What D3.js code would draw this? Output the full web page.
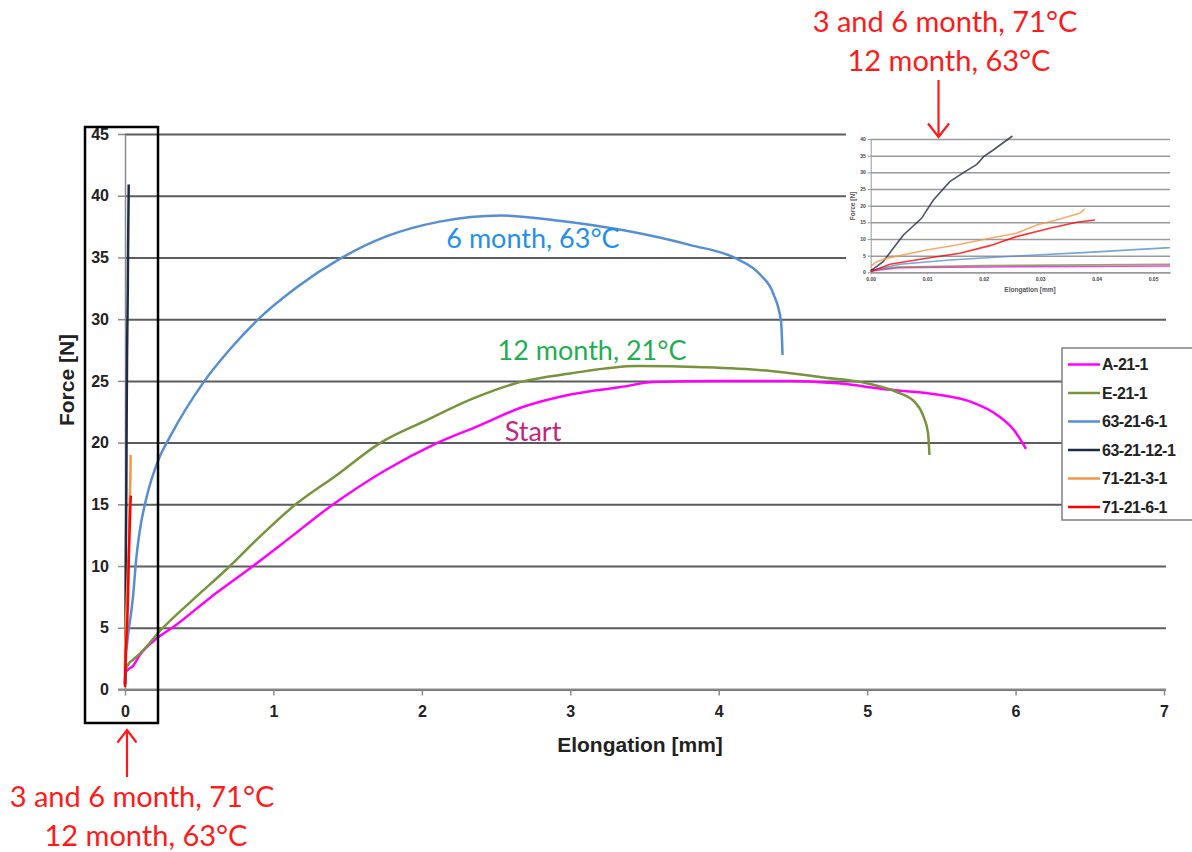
<!DOCTYPE html>
<html>
<head>
<meta charset="utf-8">
<script src="https://cdn.jsdelivr.net/npm/d3@7"></script>
<style>
  body { margin: 0; background: #fff; }
  svg { display: block; }
</style>
</head>
<body>
<div id="chart"></div>
<script>
// sample names as in the legend
const seriesNames = ["A-21-1", "E-21-1", "63-21-6-1", "63-21-12-1", "71-21-3-1", "71-21-6-1"];

// [elongation mm, force N]
const a21_1 = [[0, 0.4], [0.005, 1.4], [0.02, 1.6], [0.053, 1.9], [0.1, 2.8], [0.21, 4.1], [0.33, 5.1], [0.57, 7.4],
  [0.84, 9.8], [1.09, 12.1], [1.38, 14.8], [1.76, 17.8], [2.09, 19.9], [2.39, 21.4], [2.66, 22.8], [3.0, 23.9],
  [3.34, 24.5], [3.56, 24.9], [4.01, 25.0], [4.48, 25.0], [4.80, 24.8], [5.14, 24.3], [5.47, 23.9], [5.70, 23.3],
  [5.88, 22.2], [5.99, 21.0], [6.07, 19.5]];
const e21_1 = [[0, 0.6], [0.005, 1.6], [0.02, 2.0], [0.053, 2.4], [0.10, 2.9], [0.24, 4.8], [0.46, 7.3], [0.69, 9.8],
  [0.91, 12.4], [1.13, 14.8], [1.43, 17.4], [1.71, 19.9], [2.03, 21.8], [2.33, 23.5], [2.66, 24.9], [3.0, 25.6],
  [3.45, 26.2], [3.90, 26.1], [4.35, 25.8], [4.69, 25.3], [5.0, 24.8], [5.20, 24.1], [5.32, 23.3], [5.38, 22.1],
  [5.41, 20.8], [5.42, 19.0]];
const s63_21_6_1 = [[0, 0.5], [0.0052, 2.4], [0.014, 3.7], [0.0258, 4.9], [0.0376, 5.9], [0.053, 7.4], [0.075, 10.5],
  [0.10, 12.9], [0.146, 15.6], [0.225, 18.6], [0.30, 20.4], [0.53, 24.9], [0.71, 27.6], [0.89, 29.9], [1.16, 32.6],
  [1.45, 34.9], [1.76, 36.7], [2.12, 37.9], [2.53, 38.4], [2.91, 38.0], [3.36, 37.2], [3.81, 36.0], [4.12, 34.9],
  [4.28, 33.6], [4.37, 32.0], [4.42, 29.8], [4.43, 27.1]];
const s63_21_12_1 = [[0, 0.4], [0.0022, 3.2], [0.004, 7.2], [0.0058, 11.2], [0.009, 16.2], [0.0111, 21.7],
  [0.014, 27.2], [0.0167, 30.2], [0.0188, 32.4], [0.02, 34.7], [0.0217, 36.7], [0.0251, 40.9]];
const s71_21_3_1 = [[0, 1.7], [0.001, 3.2], [0.0034, 4.4], [0.0099, 6.7], [0.0152, 8.2], [0.0211, 10.2],
  [0.0258, 11.7], [0.0294, 14.2], [0.0329, 15.7], [0.037, 17.7], [0.0379, 19.0]];
const s71_21_6_1 = [[0, 0.2], [0.0034, 2.4], [0.0099, 4.2], [0.0158, 5.7], [0.0211, 8.0], [0.0258, 10.7],
  [0.0317, 13.2], [0.0365, 15.0], [0.0397, 15.7]];

const xTicks = [0, 1, 2, 3, 4, 5, 6, 7];
const yTicks = [0, 5, 10, 15, 20, 25, 30, 35, 40, 45];
const insetXTicks = [0, 0.01, 0.02, 0.03, 0.04, 0.05];
const insetYTicks = [0, 5, 10, 15, 20, 25, 30, 35, 40];

const seriesData = [a21_1, e21_1, s63_21_6_1, s63_21_12_1, s71_21_3_1, s71_21_6_1];
const colors = ["#ff00ff", "#77933c", "#558ed5", "#1f2a44", "#f79646", "#ff0000"];

const W = 1192, H = 852;
const svg = d3.select("#chart").append("svg")
  .attr("width", W)
  .attr("height", H);

const tickFont = "'Liberation Sans', Arial, sans-serif";
const noteFont = "Lato, 'Open Sans', sans-serif";

// main scales
const x = d3.scaleLinear().domain([0, 7]).range([125, 1164]);
const y = d3.scaleLinear().domain([0, 45]).range([689.5, 134]);

// horizontal grid lines
svg.append("g")
  .attr("transform", "translate(125,0)")
  .call(d3.axisLeft(y).tickValues(yTicks).tickSize(-(1166 - 125)).tickFormat(""))
  .call(g => g.select(".domain").remove())
  .call(g => g.selectAll("line").attr("stroke", "#5c5c5c").attr("stroke-width", 2));

// y axis with short ticks and labels
svg.append("g")
  .attr("transform", "translate(125,0)")
  .call(d3.axisLeft(y).tickValues(yTicks).tickSize(7).tickSizeOuter(0).tickPadding(9))
  .call(g => g.select(".domain").attr("stroke", "#8a8a8a").attr("stroke-width", 1.5))
  .call(g => g.selectAll("line").attr("stroke", "#8a8a8a").attr("stroke-width", 1.5))
  .call(g => g.selectAll("text")
    .attr("font-family", tickFont).attr("font-weight", "bold").attr("font-size", 16).attr("fill", "#222"));

// x axis
svg.append("g")
  .attr("transform", "translate(0," + y(0) + ")")
  .call(d3.axisBottom(x).tickValues(xTicks).tickFormat(d3.format("d")).tickSize(6).tickSizeOuter(0).tickPadding(10))
  .call(g => g.select(".domain").attr("stroke", "#8a8a8a").attr("stroke-width", 2).attr("d", "M118,0H1166"))
  .call(g => g.selectAll("line").attr("stroke", "#8a8a8a").attr("stroke-width", 1.5))
  .call(g => g.selectAll("text")
    .attr("font-family", tickFont).attr("font-weight", "bold").attr("font-size", 16).attr("fill", "#222"));

// axis titles
svg.append("text")
  .attr("x", 640).attr("y", 752)
  .attr("text-anchor", "middle")
  .attr("font-family", tickFont).attr("font-weight", "bold").attr("font-size", 21)
  .attr("fill", "#222")
  .text("Elongation [mm]");

svg.append("text")
  .attr("transform", "translate(74,380) rotate(-90)")
  .attr("text-anchor", "middle")
  .attr("font-family", tickFont).attr("font-weight", "bold").attr("font-size", 21)
  .attr("fill", "#222")
  .text("Force [N]");

// curves
const line = d3.line()
  .x(d => x(d[0]))
  .y(d => y(d[1]))
  .curve(d3.curveMonotoneX);

svg.append("g").selectAll("path")
  .data(seriesData)
  .enter().append("path")
  .attr("d", line)
  .attr("fill", "none")
  .attr("stroke", (d, i) => colors[i])
  .attr("stroke-width", 2.5)
  .attr("stroke-linejoin", "round");

// curve annotations
const notes = [
  { text: "6 month, 63°C", x: 533, y: 248, color: "#1f8fef" },
  { text: "12 month, 21°C", x: 592, y: 360, color: "#1fae4f" },
  { text: "Start", x: 533, y: 441, color: "#c6257a" }
];
svg.append("g").selectAll("text")
  .data(notes)
  .enter().append("text")
  .attr("x", d => d.x).attr("y", d => d.y)
  .attr("text-anchor", "middle")
  .attr("font-family", noteFont).attr("font-size", 27)
  .attr("fill", d => d.color)
  .text(d => d.text);

// box around the near-zero curves
svg.append("rect")
  .attr("x", 85).attr("y", 127)
  .attr("width", 73).attr("height", 596)
  .attr("fill", "none")
  .attr("stroke", "#000")
  .attr("stroke-width", 2.5);

// ---- inset: zoom on first 0.05 mm ----
const inset = svg.append("g");
inset.append("rect")
  .attr("x", 846).attr("y", 127)
  .attr("width", 340).attr("height", 172)
  .attr("fill", "#fff");

const xi = d3.scaleLinear().domain([0, 0.053]).range([870.7, 1170]);
const yi = d3.scaleLinear().domain([0, 40]).range([272.3, 139]);

inset.append("g")
  .attr("transform", "translate(870.7,0)")
  .call(d3.axisLeft(yi).tickValues(insetYTicks).tickSize(-(1170 - 870.7)).tickFormat(""))
  .call(g => g.select(".domain").remove())
  .call(g => g.selectAll("line").attr("stroke", "#9a9a9a").attr("stroke-width", 1.5));

inset.append("g")
  .attr("transform", "translate(870.7,0)")
  .call(d3.axisLeft(yi).tickValues(insetYTicks).tickSize(3).tickSizeOuter(0).tickPadding(2))
  .call(g => g.select(".domain").attr("stroke", "#999"))
  .call(g => g.selectAll("line").attr("stroke", "#999"))
  .call(g => g.selectAll("text")
    .attr("font-family", tickFont).attr("font-weight", "bold").attr("font-size", 5).attr("fill", "#444"));

inset.append("g")
  .attr("transform", "translate(0," + yi(0) + ")")
  .call(d3.axisBottom(xi).tickValues(insetXTicks).tickFormat(d3.format(".2f")).tickSize(2).tickSizeOuter(0).tickPadding(3))
  .call(g => g.select(".domain").attr("stroke", "#999").attr("stroke-width", 1.5))
  .call(g => g.selectAll("line").attr("stroke", "#999"))
  .call(g => g.selectAll("text")
    .attr("font-family", tickFont).attr("font-weight", "bold").attr("font-size", 5).attr("fill", "#444"));

inset.append("text")
  .attr("x", 1030).attr("y", 292)
  .attr("text-anchor", "middle")
  .attr("font-family", tickFont).attr("font-weight", "bold").attr("font-size", 6.5)
  .attr("fill", "#555")
  .text("Elongation [mm]");

inset.append("text")
  .attr("transform", "translate(855,206) rotate(-90)")
  .attr("text-anchor", "middle")
  .attr("font-family", tickFont).attr("font-weight", "bold").attr("font-size", 6.5)
  .attr("fill", "#555")
  .text("Force [N]");

svg.append("defs").append("clipPath")
  .attr("id", "insetClip")
  .append("rect")
  .attr("x", 868).attr("y", 130)
  .attr("width", 302).attr("height", 146);

const lineInset = d3.line()
  .x(d => xi(d[0]))
  .y(d => yi(d[1]));

// only the first points matter in the inset, the clip cuts the rest
inset.append("g")
  .attr("clip-path", "url(#insetClip)")
  .selectAll("path")
  .data(seriesData)
  .enter().append("path")
  .attr("d", d => lineInset(d.filter((p, j) => j === 0 || d[j - 1][0] <= 0.06)))
  .attr("fill", "none")
  .attr("stroke", (d, i) => colors[i])
  .attr("stroke-opacity", 0.8)
  .attr("stroke-width", 1.6);

// ---- legend ----
const legend = svg.append("g");
legend.append("rect")
  .attr("x", 1062).attr("y", 348)
  .attr("width", 140).attr("height", 172)
  .attr("fill", "#fff")
  .attr("stroke", "#808080")
  .attr("stroke-width", 1.5);

const ly = d3.scalePoint().domain(seriesNames).range([364.5, 507]);
const item = legend.selectAll(".item")
  .data(seriesNames)
  .enter().append("g")
  .attr("class", "item")
  .attr("transform", d => "translate(0," + ly(d) + ")");
item.append("line")
  .attr("x1", 1068).attr("x2", 1100)
  .attr("stroke", (d, i) => colors[i])
  .attr("stroke-width", 2.5);
item.append("text")
  .attr("x", 1102)
  .attr("dy", "0.36em")
  .attr("font-family", tickFont).attr("font-weight", "bold").attr("font-size", 16)
  .attr("letter-spacing", -0.5)
  .attr("fill", "#222")
  .text(d => d);

// ---- red call-outs ----
const red = "#ff1a1a";
const callouts = [
  { lines: ["3 and 6 month, 71°C", "12 month, 63°C"], x: 945, y: 32 },
  { lines: ["3 and 6 month, 71°C", "12 month, 63°C"], x: 142, y: 807 }
];
callouts.forEach(c => {
  const t = svg.append("text")
    .attr("text-anchor", "middle")
    .attr("font-family", noteFont).attr("font-size", 29)
    .attr("fill", red);
  c.lines.forEach((s, k) => {
    t.append("tspan").attr("x", c.x + k * 4).attr("y", c.y + k * 38.5).text(s);
  });
});

// arrows
svg.append("path")
  .attr("d", "M938.5,80V136M928,123.5L938.5,137L949,123.5")
  .attr("fill", "none").attr("stroke", red).attr("stroke-width", 2.2);
svg.append("path")
  .attr("d", "M127,777V731M117.5,742.5L127,730L136.5,742.5")
  .attr("fill", "none").attr("stroke", red).attr("stroke-width", 2.2);
</script>
</body>
</html>
